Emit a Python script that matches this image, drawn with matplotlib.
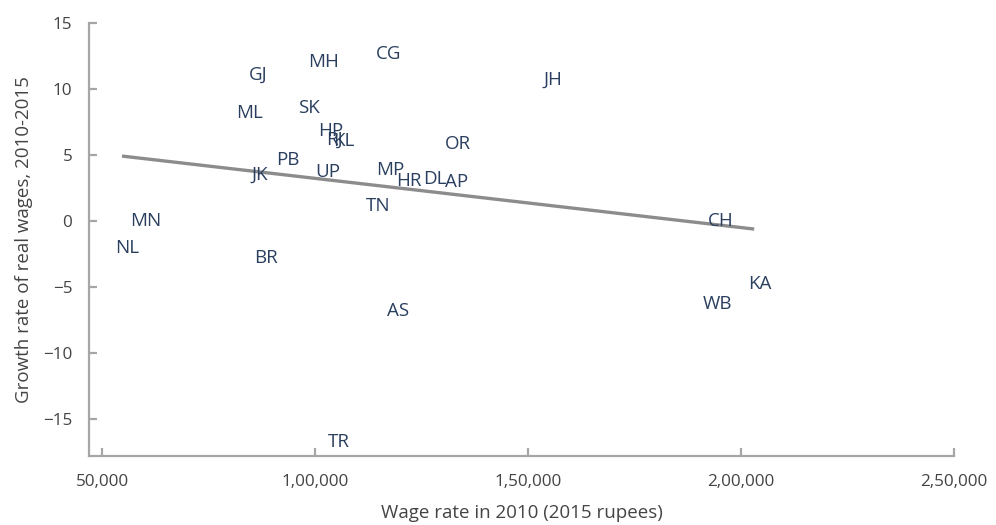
import matplotlib
matplotlib.use("Agg")
import matplotlib.pyplot as plt
from matplotlib.ticker import FixedLocator, FuncFormatter

plt.rcParams['font.family'] = ['Open Sans', 'DejaVu Sans']

states = ["GJ", "MH", "CG", "JH", "ML", "SK", "HP", "RJ", "KL", "OR", "PB", "JK",
          "UP", "MP", "HR", "DL", "AP", "TN", "MN", "NL", "BR", "CH", "KA", "WB",
          "AS", "TR"]
wage_2010 = [86600, 101900, 117400, 155900, 84700, 98600, 103800, 104500, 106800,
             133600, 93700, 87100, 103100, 117600, 122100, 128200, 133300, 114800,
             60300, 55900, 88500, 195300, 204500, 194400, 119500, 105600]
growth = [11.06, 12.05, 12.65, 10.68, 8.18, 8.56, 6.82, 6.14, 6.06, 5.83, 4.62, 3.48,
          3.71, 3.86, 3.03, 3.18, 2.95, 1.14, 0.0, -2.05, -2.8, 0.0, -4.77, -6.29,
          -6.82, -16.74]

fit_x = [54700, 203100]
fit_y = [4.92, -0.61]

xticks = [50000, 100000, 150000, 200000, 250000]
yticks = [-15, -10, -5, 0, 5, 10, 15]


def indian_fmt(v, pos=None):
    v = int(round(v))
    s = str(v)
    if len(s) <= 3:
        return s
    last3 = s[-3:]
    rest = s[:-3]
    parts = []
    while len(rest) > 2:
        parts.insert(0, rest[-2:])
        rest = rest[:-2]
    if rest:
        parts.insert(0, rest)
    return ",".join(parts + [last3])


fig = plt.figure(figsize=(9.96, 5.25), dpi=100)
W, H = 996, 525
ax = fig.add_axes([89 / W, 1 - 456 / H, (954 - 89) / W, (456 - 23) / H])

ax.plot(fit_x, fit_y, color="#8c8c8c", lw=2.4, solid_capstyle="butt", zorder=1)

for s, x, y in zip(states, wage_2010, growth):
    ax.text(x, y, s, ha="center", va="center", fontsize=13.5, color="#2a3f5f", zorder=2)

ax.set_xlim(46950, 250000)
ax.set_ylim(-17.8, 15)
ax.xaxis.set_major_locator(FixedLocator(xticks))
ax.yaxis.set_major_locator(FixedLocator(yticks))
ax.xaxis.set_major_formatter(FuncFormatter(indian_fmt))
ax.yaxis.set_major_formatter(FuncFormatter(lambda v, p: f"{int(v)}".replace("-", "\u2212")))

for side in ["top", "right"]:
    ax.spines[side].set_visible(False)
for side in ["left", "bottom"]:
    ax.spines[side].set_color("#a6a6a6")
    ax.spines[side].set_linewidth(1.6)

ax.tick_params(axis="both", direction="in", length=6, width=1.6, color="#a6a6a6",
               labelsize=12.3, labelcolor="#444444")
ax.tick_params(axis="x", pad=13)
ax.tick_params(axis="y", pad=12)

ax.set_xlabel("Wage rate in 2010 (2015 rupees)", fontsize=13.5, color="#444444", labelpad=10)
ax.set_ylabel("Growth rate of real wages, 2010-2015", fontsize=13.5, color="#444444", labelpad=7)

fig.savefig("out.png", dpi=100)
